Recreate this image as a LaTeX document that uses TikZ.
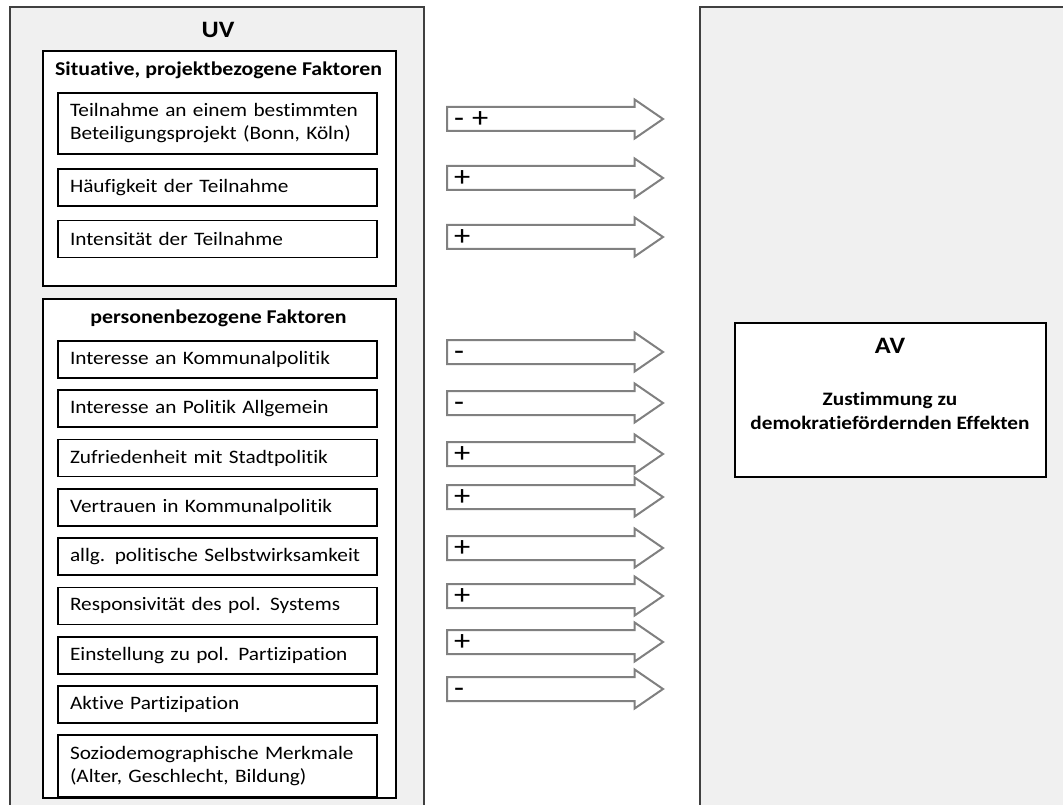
\documentclass[tikz,border=0pt]{standalone}
\usepackage{fontspec}
\setmainfont{Carlito}[FakeStretch=1.12, Ligatures=NoCommon]
\usepackage{tikz}
\usetikzlibrary{shapes.arrows, positioning}

\begin{document}
\begin{tikzpicture}[
    x=1pt, y=-1pt,
    font=\fontsize{19}{23}\selectfont,
    frame/.style={draw=black!75, line width=1.3pt, fill=black!6},
    group/.style={rectangle, draw=black, line width=1.8pt, fill=white, anchor=north west, inner sep=0pt},
    factor/.style={rectangle, draw=black, line width=1.8pt, fill=white, minimum height=37pt, text width=295pt, inner xsep=12pt, inner ysep=0pt, align=left},
    heading/.style={font=\bfseries\fontsize{19.5}{23}\selectfont, anchor=base},
    title/.style={font=\bfseries\fontsize{23.5}{28}\selectfont, anchor=base},
    effect/.style={single arrow, draw=black!50, line width=2pt, fill=white, minimum height=216pt, text height=11pt, text depth=11pt, single arrow head extend=7.5pt, single arrow tip angle=69, inner sep=0pt, anchor=tail},
    sign/.style={font=\fontsize{29}{30}\selectfont, inner sep=0pt, text height=1.1ex, text depth=0pt, anchor=west}
]
\useasboundingbox (0,0) rectangle (1063,805);
\clip (0,0) rectangle (1063,805);

% left and right frames
\draw[frame] (10,7) rectangle (424,830);
\draw[frame] (700,7) rectangle (1090,830);
\node[title] (uv) at (218,37.5) {UV};

% situative factors
\node[group, minimum width=353pt, minimum height=235pt] (sit) at (42,50) {};
\node[heading] (sittitle) at (218.5,76) {Situative, projektbezogene Faktoren};
\node[factor, minimum height=61pt, anchor=north] (teil) at (217.5,92) {Teilnahme an einem bestimmten\\Beteiligungsprojekt (Bonn, Köln)};
\node[factor, below=13pt of teil] (haeuf) {Häufigkeit der Teilnahme};
\node[factor, below=13pt of haeuf] (intens) {Intensität der Teilnahme};

% person factors
\node[group, minimum width=353pt, minimum height=499pt] (pers) at (42,298) {};
\node[heading] (perstitle) at (218.5,323) {personenbezogene Faktoren};
\node[factor, anchor=north] (ikom) at (217.5,340) {Interesse an Kommunalpolitik};
\node[factor, below=10.5pt of ikom] (ipol) {Interesse an Politik Allgemein};
\node[factor, below=10.5pt of ipol] (zufr) {Zufriedenheit mit Stadtpolitik};
\node[factor, below=10.5pt of zufr] (vertr) {Vertrauen in Kommunalpolitik};
\node[factor, below=10.5pt of vertr] (selbst) {allg. politische Selbstwirksamkeit};
\node[factor, below=10.5pt of selbst] (resp) {Responsivität des pol. Systems};
\node[factor, below=10.5pt of resp] (einst) {Einstellung zu pol. Partizipation};
\node[factor, below=10.5pt of einst] (aktiv) {Aktive Partizipation};
\node[factor, minimum height=62pt, below=10.5pt of aktiv] (sozio) {Soziodemographische Merkmale\\(Alter, Geschlecht, Bildung)};

% effects
\foreach \y/\s [count=\i] in {119/{-\hspace{8pt}+}, 178/+, 237/+, 352/-, 403/-, 454/+, 497/+, 548/+, 596/+, 642/+, 689/-} {
    \node[effect] (arr\i) at (446,\y) {};
    \node[sign] (sign\i) at ([xshift=8pt, yshift=-6pt]arr\i.tail) {\s};
}

% dependent variable
\node[rectangle, draw=black, line width=1.8pt, fill=white, minimum width=311pt, minimum height=154pt] (av) at (890.5,400) {};
\node[title] (avtitle) at (890,353) {AV};
\node[font=\bfseries\fontsize{19}{24}\selectfont, align=center] (avtext) at (890,411) {Zustimmung zu\\demokratiefördernden Effekten};

\end{tikzpicture}
\end{document}
